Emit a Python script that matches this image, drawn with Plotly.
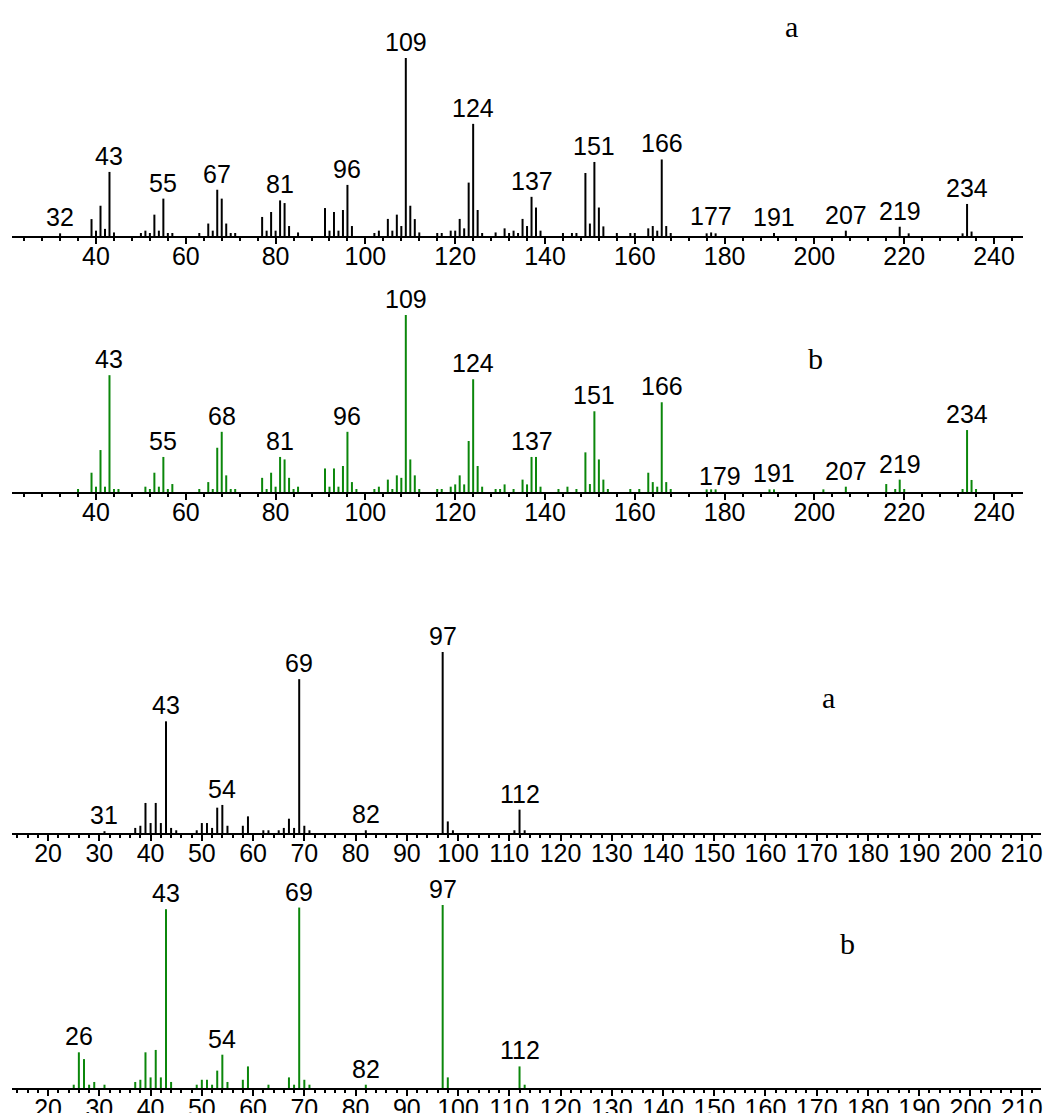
import plotly.graph_objects as go

W, H = 1044, 1113

# ---------------- data: upper pair (m/z 20-250) ----------------
mz_top_a = [32, 39, 40, 41, 42, 43, 44, 50, 51, 52, 53, 54, 55, 56, 57, 63, 65, 66, 67, 68,
            69, 70, 71, 77, 78, 79, 80, 81, 82, 83, 85, 91, 92, 93, 94, 95, 96, 97, 102, 103,
            105, 106, 107, 108, 109, 110, 111, 112, 116, 117, 119, 120, 121, 122, 123, 124,
            125, 126, 129, 131, 132, 133, 134, 135, 136, 137, 138, 139, 144, 146, 147, 149,
            150, 151, 152, 153, 156, 159, 160, 163, 164, 165, 166, 167, 168, 176, 177, 178,
            191, 207, 219, 221, 233, 234, 235]
int_top_a = [1.5, 9.5, 3, 17, 4, 36, 2, 1.7, 3, 1.7, 12, 3, 21, 1.7, 1.7, 1.7, 7, 3, 26, 21,
             7, 1.7, 1.7, 10.7, 3, 13.5, 3, 20, 18.5, 5.6, 2, 15.7, 3, 13.5, 3, 14.6, 28.7, 5.6, 1.7, 3,
             9.6, 3, 12, 5.6, 100, 17, 9.5, 2, 1.7, 1.7, 3, 3, 9.6, 4.3, 30, 63,
             14.6, 1.7, 2, 4.3, 1.7, 3, 1.7, 9.6, 5.6, 22, 16, 3, 1.7, 1.7, 1.7, 35.4,
             7, 41.6, 16, 5.4, 1.7, 1.7, 1.7, 4.3, 5.6, 3, 43, 5.6, 1.7, 1.5, 2, 1.5,
             1.7, 3, 5.2, 1.5, 1.5, 18, 2.5]
labels_top_a = [32, 43, 55, 67, 81, 96, 109, 124, 137, 151, 166, 177, 191, 207, 219, 234]

mz_top_b = [36, 39, 40, 41, 42, 43, 44, 45, 51, 52, 53, 54, 55, 56, 57, 63, 65, 66, 67, 68,
            69, 70, 71, 77, 78, 79, 80, 81, 82, 83, 84, 85, 91, 92, 93, 94, 95, 96, 97, 98,
            102, 103, 105, 106, 107, 108, 109, 110, 111, 112, 116, 117, 119, 120, 121, 122,
            123, 124, 125, 126, 129, 130, 131, 133, 135, 136, 137, 138, 139, 143, 145, 147,
            149, 150, 151, 152, 153, 154, 159, 161, 163, 164, 165, 166, 167, 168, 176, 177,
            178, 190, 191, 202, 207, 216, 218, 219, 220, 233, 234, 235, 236]
int_top_b = [1.7, 10.9, 3, 23.7, 3, 66, 1.7, 1.7, 3, 1.7, 10.9, 3, 19.8, 1.7, 4.5, 1.7, 5.6, 1.7, 25, 34,
             9.4, 1.7, 1.7, 8, 1.7, 10.9, 3, 19.8, 18.4, 8, 1.7, 3, 13.3, 3, 13.3, 3, 14.7, 34, 5.6, 1.7,
             1.7, 3, 7, 1.7, 9.4, 8, 100, 18.4, 9.4, 1.7, 1.7, 1.7, 3, 4.3, 9.4, 4.3,
             28.8, 63.7, 14.7, 3, 1.7, 1.7, 4.3, 1.7, 7, 4.3, 19.8, 19.8, 3, 1.7, 3, 1.7,
             22.4, 4.5, 45.6, 18.4, 7, 1.7, 1.7, 1.7, 10.9, 5.6, 3, 50.7, 5.6, 1.7, 1.5, 1.5,
             1.5, 1.5, 1.5, 1.5, 3, 4.5, 1.7, 7, 1.7, 1.7, 35, 6.8, 1.7]
labels_top_b = [43, 55, 68, 81, 96, 109, 124, 137, 151, 166, 179, 191, 207, 219, 234]

# ---------------- data: lower pair (m/z 10-215) ----------------
mz_bot_a = [31, 37, 38, 39, 40, 41, 42, 43, 44, 45, 49, 50, 51, 52, 53, 54, 55, 58, 59, 62,
            63, 65, 66, 67, 68, 69, 70, 71, 82, 97, 98, 99, 111, 112, 113]
int_bot_a = [1, 2.8, 4, 16.6, 5.5, 16.6, 5.5, 61.7, 2.8, 1.5, 1.5, 5.5, 5.5, 2.8, 14, 15.5, 4, 4, 9.2, 1.5,
             1.5, 1.5, 2.8, 7.9, 2.8, 85, 4, 1.5, 1.5, 100, 6.4, 1.5, 1.5, 12.9, 1.5]
labels_bot_a = [31, 43, 54, 69, 82, 97, 112]

mz_bot_b = [25, 26, 27, 28, 29, 31, 37, 38, 39, 40, 41, 42, 43, 44, 49, 50, 51, 52, 53, 54,
            55, 58, 59, 63, 67, 68, 69, 70, 71, 82, 97, 98, 112, 113]
int_bot_b = [1.8, 19.5, 15.8, 1.8, 3.3, 1.8, 3.3, 4.5, 19.5, 5.8, 20.8, 5.8, 97.7, 3.3, 1.8, 4.5, 4.5, 1.8, 9.5, 18.2,
             3.3, 4.5, 11.8, 1.8, 5.8, 1.8, 98.6, 4.5, 1.8, 1.8, 100, 5.8, 11.8, 1.8]
labels_bot_b = [26, 43, 54, 69, 82, 97, 112]

panel_letters = ["a", "b", "a", "b"]

# ---------------- layout helpers ----------------
def fx(p):
    return p / W

def fy(p):
    return 1 - p / H

panels = [
    dict(mz=mz_top_a, it=int_top_a, labels=labels_top_a, color="#000000",
         xr=[21.29, 246.46], xpx=[12, 1023], ypx=[236, 58], dtick=20, minor=4, letter=(791, 27)),
    dict(mz=mz_top_b, it=int_top_b, labels=labels_top_b, color="#0b870b",
         xr=[21.29, 246.46], xpx=[12, 1023], ypx=[492, 315], dtick=20, minor=4, letter=(815, 358)),
    dict(mz=mz_bot_a, it=int_bot_a, labels=labels_bot_a, color="#000000",
         xr=[12.95, 213.77], xpx=[12, 1041], ypx=[833, 652], dtick=10, minor=2, letter=(828, 697)),
    dict(mz=mz_bot_b, it=int_bot_b, labels=labels_bot_b, color="#0b870b",
         xr=[12.95, 213.77], xpx=[12, 1041], ypx=[1088, 905], dtick=10, minor=2, letter=(847, 943)),
]

fig = go.Figure()
annotations = []
label_font = dict(family="Liberation Sans, Arial, sans-serif", size=25, color="black")

for i, p in enumerate(panels):
    n = "" if i == 0 else str(i + 1)
    xa, ya = "x" + n, "y" + n
    # stick spectrum: one vertical segment per peak
    xs, ys = [], []
    for m, v in zip(p["mz"], p["it"]):
        xs += [m, m, None]
        ys += [0, v, None]
    fig.add_trace(go.Scatter(x=xs, y=ys, mode="lines", line=dict(color=p["color"], width=2),
                             xaxis=xa, yaxis=ya, showlegend=False, hoverinfo="skip", cliponaxis=False))
    lookup = dict(zip(p["mz"], p["it"]))
    for m in p["labels"]:
        annotations.append(dict(x=m, y=lookup.get(m, 0), xref=xa, yref=ya, text=str(m),
                                showarrow=False, yanchor="bottom", xanchor="center",
                                font=label_font, yshift=0))
    lx, ly = p["letter"]
    annotations.append(dict(x=fx(lx), y=fy(ly), xref="paper", yref="paper", text=panel_letters[i],
                            showarrow=False, xanchor="center", yanchor="middle",
                            font=dict(family="Liberation Serif, Times New Roman, serif", size=30, color="black")))
    xkey = "xaxis" + n
    ykey = "yaxis" + n
    fig.layout[xkey] = dict(domain=[fx(p["xpx"][0]), fx(p["xpx"][1])], range=p["xr"], anchor=ya,
                            showline=True, linecolor="black", linewidth=2, showgrid=False, zeroline=False,
                            automargin=False,
                            ticks="outside", ticklen=6, tickwidth=2, tickcolor="black",
                            ticklabelstandoff=-9,
                            dtick=p["dtick"], tick0=0,
                            minor=dict(dtick=p["minor"], tick0=0, ticks="outside", ticklen=3,
                                       tickwidth=2, tickcolor="black", showgrid=False),
                            tickfont=dict(family="Liberation Sans, Arial, sans-serif", size=25, color="black"),
                            fixedrange=True)
    fig.layout[ykey] = dict(domain=[fy(p["ypx"][0]), fy(p["ypx"][1])], range=[0, 100], anchor=xa,
                            visible=False, automargin=False, fixedrange=True)

fig.update_layout(template="none", width=W, height=H, margin=dict(l=0, r=0, t=0, b=0, pad=0, autoexpand=False),
                  paper_bgcolor="white", plot_bgcolor="white",
                  annotations=annotations, showlegend=False)

fig.write_html("out.html", config={"displayModeBar": False},
               post_script="document.body.style.margin='0';document.body.style.overflow='hidden';")
